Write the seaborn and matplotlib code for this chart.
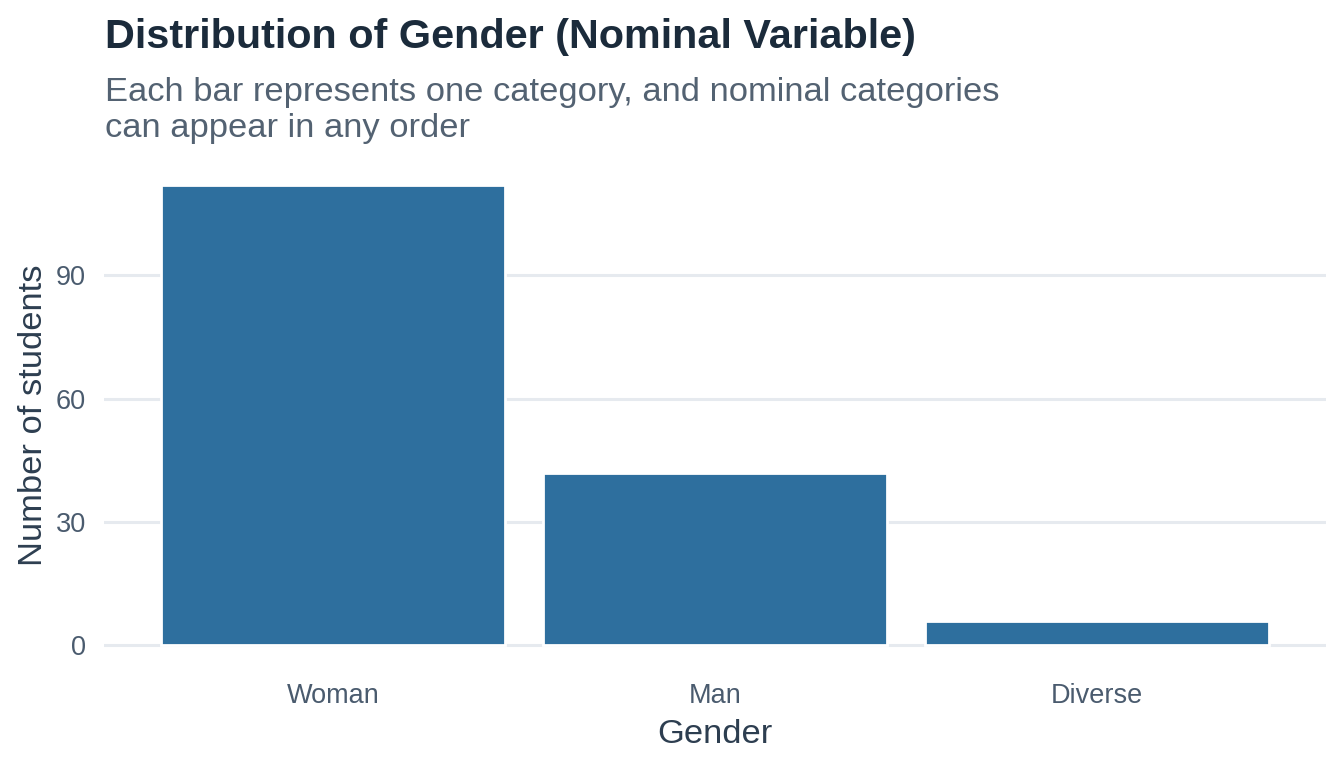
import pandas as pd
import matplotlib.pyplot as plt
import seaborn as sns

# Data
# -------------------------------------------------------------
genders = ["Woman", "Man", "Diverse"]
counts = [112, 42, 6]
y_ticks = [0, 30, 60, 90]

BAR_COLOR = "#2E6F9E"
GRID_COLOR = "#E6EAEF"

df = pd.DataFrame({"gender": genders, "n": counts})

# Plotting
# -------------------------------------------------------------
sns.set_theme(style="white")
plt.rcParams["font.family"] = ["Liberation Sans", "DejaVu Sans"]

fig = plt.figure(figsize=(13.44, 7.68), dpi=100)
ax = fig.add_axes([0.0774, 0.130, 0.9092, 0.659])

sns.barplot(data=df, x="gender", y="n", order=genders, color=BAR_COLOR,
            saturation=1, width=0.9, edgecolor="white", linewidth=2,
            errorbar=None, ax=ax, zorder=3)

ax.set_xlim(-0.6, 2.6)
ax.set_ylim(-0.05 * max(counts), 1.05 * max(counts))
ax.set_yticks(y_ticks)
ax.yaxis.grid(True, color=GRID_COLOR, linewidth=2.2, zorder=0)
ax.xaxis.grid(False)
ax.set_axisbelow(True)
for s in ax.spines.values():
    s.set_visible(False)

ax.tick_params(axis="both", length=0, labelsize=19.5, colors="#4A5B6E")
ax.tick_params(axis="y", pad=13)
ax.tick_params(axis="x", pad=11)

ax.set_xlabel("Gender", fontsize=24.8, color="#2D3E50", labelpad=7)
ax.set_ylabel("Number of students", fontsize=24.8, color="#2D3E50", labelpad=5)

fig.text(0.078, 0.938, "Distribution of Gender (Nominal Variable)",
         fontsize=29.8, fontweight="bold", color="#1B2B3B", ha="left", va="baseline")
fig.text(0.078, 0.822, "Each bar represents one category, and nominal categories\ncan appear in any order",
         fontsize=24.8, color="#536272", ha="left", va="baseline", linespacing=1.2)

fig.savefig("out.png", dpi=100)
